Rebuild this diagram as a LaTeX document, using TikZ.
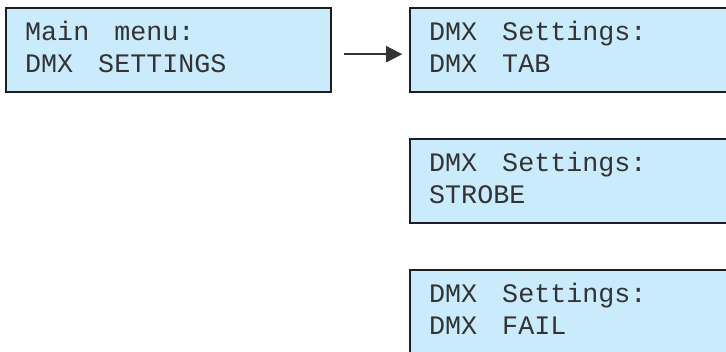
\documentclass[tikz,border=0pt]{standalone}
\usepackage{fontspec}
\newfontfamily\lcdfont{Liberation Mono}
\usetikzlibrary{matrix,arrows.meta}
\definecolor{lcdblue}{RGB}{201,235,251}
\definecolor{lcdink}{RGB}{30,30,30}
\newcommand{\lcdsize}{\lcdfont\fontsize{26.7}{32}\selectfont}
\newcommand{\lcdgap}{\spaceskip=25pt\relax}
\newcommand{\lcdlines}[2]{\begin{tabular}{@{}l@{}}\lcdgap#1\\\lcdgap#2\end{tabular}}

\begin{document}
\begin{tikzpicture}[x=1pt,y=1pt,ampersand replacement=\&,
  lcd/.style={draw=lcdink,line width=2pt,fill=lcdblue,text=black!80,
    text width=287pt,inner xsep=19pt,inner ysep=0pt,minimum height=84pt,
    align=left,font=\lcdsize},
  menuarrow/.style={-{Triangle[length=16pt,width=16pt]},line width=2pt,draw=black!80}]
\useasboundingbox (0,0) rectangle (726,-352);
\clip (0,0) rectangle (726,-352);
\matrix (m) [matrix of nodes,row sep=45pt,column sep=77pt,nodes={lcd},
  inner sep=0pt,anchor=north west] at (5,-7)
{ \lcdlines{Main menu:}{DMX SETTINGS} \& \lcdlines{DMX Settings:}{DMX TAB} \\
  \& \lcdlines{DMX Settings:}{STROBE} \\
  \& \lcdlines{DMX Settings:}{DMX FAIL} \\
} ;
\path

([yshift=-4pt]m-1-1.east)
edge [menuarrow, shorten <=12pt, shorten >=7pt]
([yshift=-4pt]m-1-2.west)

;
\end{tikzpicture}
\end{document}
